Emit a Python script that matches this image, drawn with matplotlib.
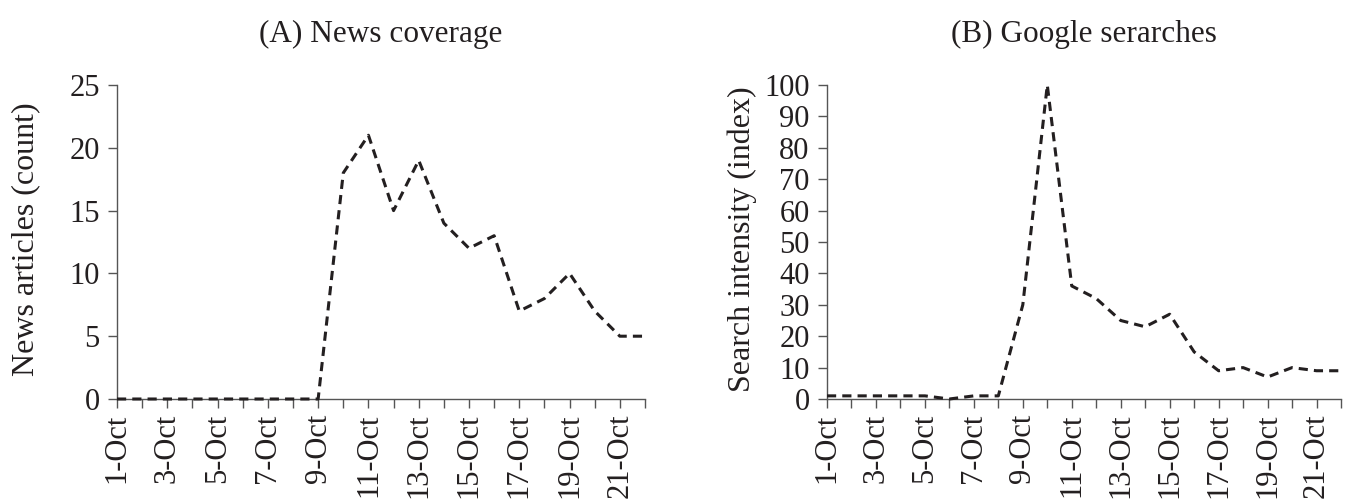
import matplotlib
matplotlib.use("Agg")
import matplotlib.pyplot as plt

dates = ["1-Oct", "2-Oct", "3-Oct", "4-Oct", "5-Oct", "6-Oct", "7-Oct", "8-Oct",
         "9-Oct", "10-Oct", "11-Oct", "12-Oct", "13-Oct", "14-Oct", "15-Oct",
         "16-Oct", "17-Oct", "18-Oct", "19-Oct", "20-Oct", "21-Oct", "22-Oct"]
news_articles = [0, 0, 0, 0, 0, 0, 0, 0, 0, 18, 21, 15, 19, 14, 12, 13, 7, 8, 10, 7, 5, 5]
search_intensity = [1, 1, 1, 1, 1, 0, 1, 1, 30, 100, 36, 32, 25, 23, 27, 15, 9, 10, 7, 10, 9, 9]

title_a = "(A) News coverage"
title_b = "(B) Google serarches"
ylabel_a = "News articles (count)"
ylabel_b = "Search intensity (index)"

plt.rcParams['font.family'] = ['Liberation Serif', 'DejaVu Serif']
TXT = "#231f20"
W, H = 1351, 504
fig = plt.figure(figsize=(W / 100, H / 100), dpi=100)


def make_axes(x0, x1, y_top, y_bot):
    return fig.add_axes([x0 / W, (H - y_bot) / H, (x1 - x0) / W, (y_bot - y_top) / H])


def style(ax, values, yticks, ylabel, title, label_x):
    x = list(range(len(dates)))
    ax.plot(x, values, color=TXT, lw=2.2, dashes=(3, 2), solid_capstyle='butt',
            dash_capstyle='butt', clip_on=False, zorder=3)
    ax.set_xlim(0, len(dates) - 1)
    ax.set_ylim(yticks[0], yticks[-1])
    ax.set_xticks(x)
    ax.set_xticklabels([d if i % 2 == 0 else "" for i, d in enumerate(dates)],
                       rotation=90, fontsize=22, color=TXT)
    ax.set_yticks(yticks)
    ax.set_yticklabels([str(v) for v in yticks], fontsize=22, color=TXT)
    for s in ['top', 'right']:
        ax.spines[s].set_visible(False)
    for s in ['left', 'bottom']:
        ax.spines[s].set_color("#555555")
        ax.spines[s].set_linewidth(1.0)
    ax.tick_params(axis='x', direction='out', length=6.5, width=1.0, color="#555555", pad=4)
    ax.tick_params(axis='y', direction='out', length=6.5, width=1.0, color="#555555", pad=6)
    ax.set_ylabel(ylabel, fontsize=23, color=TXT)
    ax.yaxis.set_label_coords(label_x, 0.51)
    ax.set_title(title, fontsize=22.5, color=TXT, pad=31)


ax1 = make_axes(117, 645, 85, 399)
style(ax1, news_articles, [0, 5, 10, 15, 20, 25], ylabel_a, title_a, (40 - 117) / 528)

ax2 = make_axes(827, 1341, 85, 399)
style(ax2, search_intensity, list(range(0, 101, 10)), ylabel_b, title_b, (757 - 827) / 514)

fig.savefig("out.png", dpi=100)
